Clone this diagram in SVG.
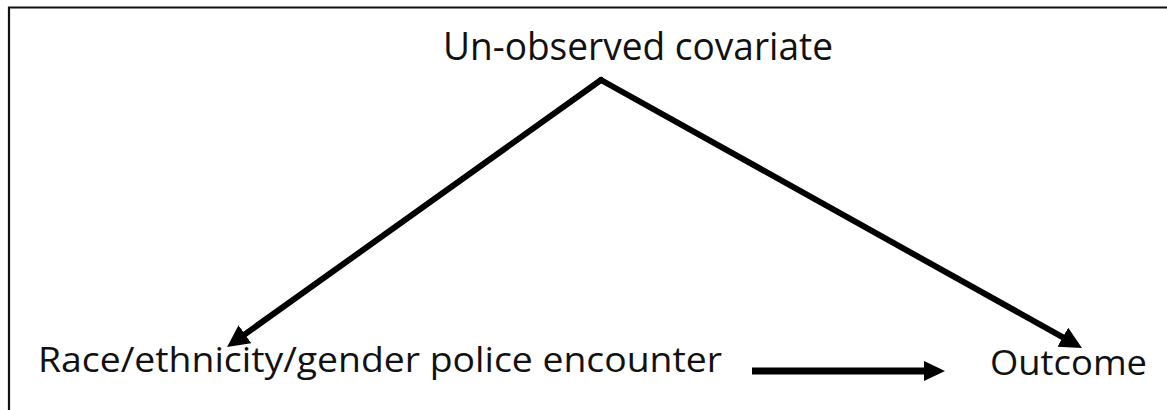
<svg xmlns="http://www.w3.org/2000/svg" width="1167" height="410" viewBox="0 0 1167 410">
  <style>
    .lbl { font-family: "Open Sans", "Liberation Sans", sans-serif; fill: #111; }
    .edge { fill: none; stroke: #000; stroke-width: 6; stroke-linecap: round; }
    .edge2 { fill: none; stroke: #000; stroke-width: 7; }
  </style>
  <defs>
    <marker id="ah" markerUnits="userSpaceOnUse" markerWidth="24" markerHeight="24" refX="11" refY="11" orient="auto">
      <path d="M0,0 L22,11 L0,22 Z" fill="#000"/>
    </marker>
    <marker id="ah2" markerUnits="userSpaceOnUse" markerWidth="24" markerHeight="24" refX="6" refY="10" orient="auto">
      <path d="M0,0 L21,10 L0,20 Z" fill="#000"/>
    </marker>
  </defs>
  <rect width="1167" height="410" fill="#fff"/>
  <path d="M9,410 V7.5 H1167" fill="none" stroke="#111" stroke-width="2.2"/>

  <g id="node-covariate">
    <text class="lbl" x="443" y="60" font-size="39" textLength="390" lengthAdjust="spacingAndGlyphs">Un-observed covariate</text>
  </g>
  <g id="node-race">
    <text class="lbl" x="38" y="372" font-size="34" textLength="684" lengthAdjust="spacingAndGlyphs">Race/ethnicity/gender police encounter</text>
  </g>
  <g id="node-outcome">
    <text class="lbl" x="990" y="375" font-size="35" textLength="157" lengthAdjust="spacingAndGlyphs">Outcome</text>
  </g>

  <g id="connectors">
    <path class="edge" d="M601,80 L236,340.6" marker-end="url(#ah)"/>
    <path class="edge" d="M601,80 L1072.4,342.6" marker-end="url(#ah)"/>
    <path class="edge2" d="M752,371 L930,371" marker-end="url(#ah2)"/>
  </g>
</svg>
